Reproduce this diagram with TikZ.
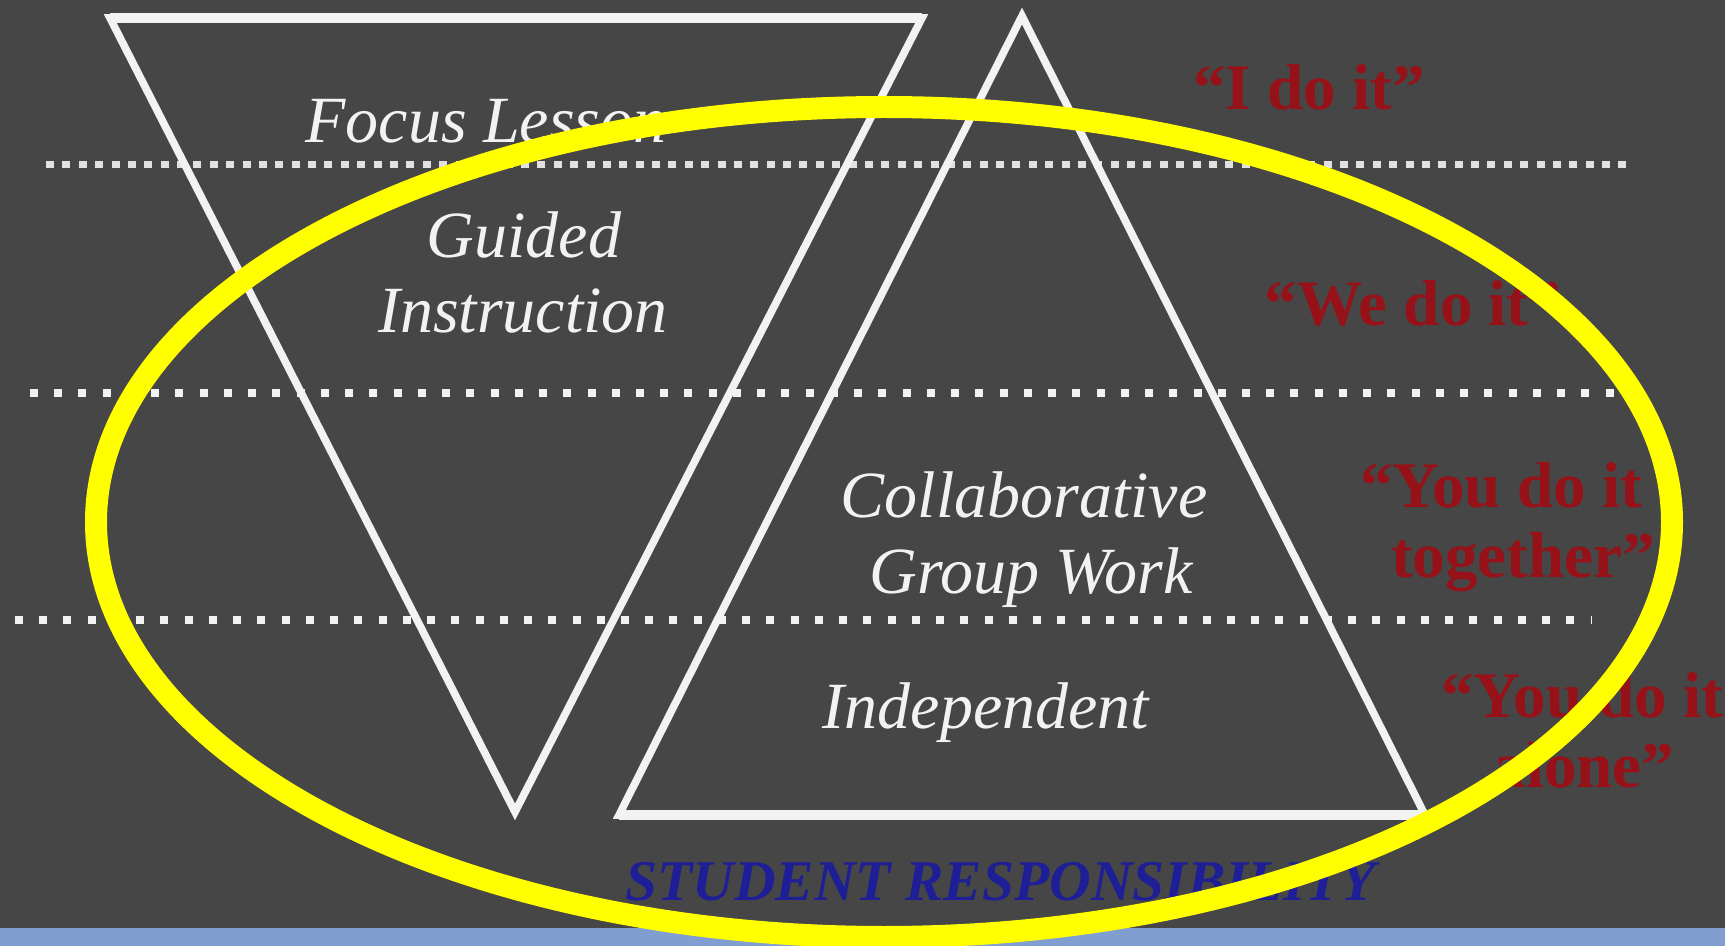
\documentclass[tikz,border=0pt]{standalone}
\usepackage{fontspec}
\setmainfont{Liberation Serif}
\definecolor{slate}{RGB}{70,70,70}
\definecolor{stripblue}{RGB}{128,158,207}
\definecolor{chalk}{RGB}{242,242,242}
\definecolor{mottored}{RGB}{150,18,24}
\definecolor{respblue}{RGB}{30,30,150}
\definecolor{marker}{RGB}{255,255,0}
\begin{document}
\begin{tikzpicture}[x=0.5pt,y=-0.5pt,
  frame/.style={draw=chalk,line width=3.8pt,line join=miter,miter limit=10},
  edge/.style={draw=chalk,line width=5pt},
  dotsfine/.style={draw=chalk!90!slate,line width=3.5pt,dash pattern=on 4pt off 4.19pt},
  dotswide/.style={draw=chalk,line width=4pt,dash pattern=on 4pt off 8.12pt},
  stage/.style={text=chalk,font=\itshape\fontsize{33}{40}\selectfont,anchor=base,inner sep=0pt},
  motto/.style={text=mottored,font=\bfseries\fontsize{32.5}{38}\selectfont,anchor=base,inner sep=0pt},
  resp/.style={text=respblue,font=\bfseries\itshape\fontsize{28.8}{34}\selectfont,anchor=base west,inner sep=0pt},
  ring/.style={draw=marker,line width=11pt}]
% canvas
\useasboundingbox (0,0) rectangle (1725,946);
\fill[slate] (0,0) rectangle (1725,946);
\fill[stripblue] (0,928) rectangle (1725,946);

% level separators
\coordinate (s1a) at (46,165);  \coordinate (s1b) at (1626,165);
\coordinate (s2a) at (30,393);  \coordinate (s2b) at (1614,393);
\coordinate (s3a) at (15,620);  \coordinate (s3b) at (1592,620);
\draw[dotsfine] (s1a) -- (s1b);
\draw[dotswide] (s2a) -- (s2b);
\draw[dotswide] (s3a) -- (s3b);

% teacher responsibility (inverted triangle)
\coordinate (tTL) at (110,18);
\coordinate (tTR) at (922,18);
\coordinate (tB)  at (515,812);
\draw[frame] (tTL) -- (tTR) -- (tB) -- cycle;
\draw[edge] (tTL) -- (tTR);

% student responsibility (upright triangle)
\coordinate (sT) at (1022,16);
\coordinate (sL) at (619,815);
\coordinate (sR) at (1425,815);
\draw[frame] (sT) -- (sR) -- (sL) -- cycle;
\draw[edge] (sL) -- (sR);

% phases
\node[stage] (focus)  at (486,143) {Focus Lesson};
\node[stage] (guided) at (524,258) {Guided};
\node[stage] (instr)  at (523,333) {Instruction};
\node[stage] (collab) at (1024,517) {Collaborative};
\node[stage] (group)  at (1031,594) {Group Work};
\node[stage] (indep)  at (986,728) {Independent};

% who does it
\node[motto] (ido)      at (1309,110) {“I do it”};
\node[motto] (wedo)     at (1413,326) {“We do it”};
\node[motto] (youtog)   at (1501,508) {“You do it};
\node[motto] (together) at (1523,577) {together”};
\node[motto,anchor=base west] (youal) at (1441,717) {“You do it};
\node[motto] (alone)    at (1584,787) {alone”};

\node[resp] (studresp) at (625,900) {STUDENT RESPONSIBILITY};

% highlight ring
\draw[ring] (884,522) ellipse [x radius=394pt, y radius=207.5pt];
\end{tikzpicture}
\end{document}
